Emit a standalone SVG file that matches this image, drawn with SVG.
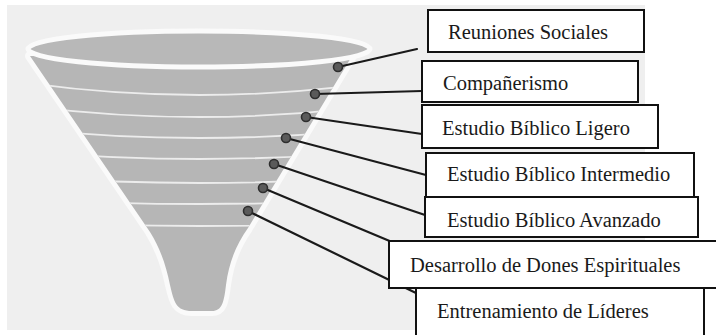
<svg xmlns="http://www.w3.org/2000/svg" width="716" height="335" viewBox="0 0 716 335">
<style>
.lbl{font-family:"Liberation Serif","Times New Roman",serif;font-size:20.5px;fill:#1a1a1a}
.box{fill:#ffffff;stroke:#111111;stroke-width:2}
.con{stroke:#1a1a1a;stroke-width:2.2;fill:none;stroke-linecap:round}
.dot{fill:#5a5a5a;stroke:#2e2e2e;stroke-width:1.6}
.band{stroke:#ececec;stroke-width:1.8;fill:none}
</style>
<defs>
<clipPath id="fc"><path d="M30,56 L150,232 C160,248 166,265 170,285 C174,302 176,311 192,311 L212,311 C222,311 224,302 226,285 C229,262 236,245 248,228 L352,56 Z"/></clipPath>
</defs>
<rect x="0" y="0" width="716" height="335" fill="#ffffff"/>
<rect x="7" y="5" width="638" height="325" fill="#efefef"/>
<g id="funnel">
<path d="M30,56 L150,232 C160,248 166,265 170,285 C174,302 176,311 192,311 L212,311 C222,311 224,302 226,285 C229,262 236,245 248,228 L352,56 Z" fill="#fafafa" stroke="#fafafa" stroke-width="10" stroke-linejoin="round"/>
<path d="M30,56 L150,232 C160,248 166,265 170,285 C174,302 176,311 192,311 L212,311 C222,311 224,302 226,285 C229,262 236,245 248,228 L352,56 Z" fill="#b6b6b6"/>
<ellipse cx="199" cy="49" rx="171" ry="18" fill="#b8b8b8" stroke="#fafafa" stroke-width="5"/>
<g clip-path="url(#fc)">
<path class="band" d="M20,82 Q199,108 380,82"/>
<path class="band" d="M20,105 Q199,129 380,105"/>
<path class="band" d="M20,128 Q199,148 380,128"/>
<path class="band" d="M20,151 Q199,167 380,151"/>
<path class="band" d="M20,176 Q199,190 380,176"/>
<path class="band" d="M20,199 Q199,209 380,199"/>
<path class="band" d="M20,222 Q199,230 380,222"/>
</g>
</g>
<g id="connectors">
<line class="con" x1="338" y1="67" x2="417" y2="49"/>
<line class="con" x1="315" y1="94" x2="422" y2="91"/>
<line class="con" x1="306" y1="117" x2="422" y2="134"/>
<line class="con" x1="286" y1="138" x2="426" y2="175"/>
<line class="con" x1="274" y1="164" x2="425" y2="215"/>
<line class="con" x1="263" y1="188" x2="392" y2="242"/>
<line class="con" x1="248" y1="211" x2="418" y2="294"/>
<circle class="dot" cx="338" cy="67" r="4.5"/>
<circle class="dot" cx="315" cy="94" r="4.5"/>
<circle class="dot" cx="306" cy="117" r="4.5"/>
<circle class="dot" cx="286" cy="138" r="4.5"/>
<circle class="dot" cx="274" cy="164" r="4.5"/>
<circle class="dot" cx="263" cy="188" r="4.5"/>
<circle class="dot" cx="248" cy="211" r="4.5"/>
</g>
<g id="n1"><rect class="box" x="428" y="10" width="216" height="42"/><text class="lbl" x="448" y="39">Reuniones Sociales</text></g>
<g id="n2"><rect class="box" x="422" y="61" width="216" height="41"/><text class="lbl" x="443" y="90">Compañerismo</text></g>
<g id="n3"><rect class="box" x="422" y="105" width="236" height="43"/><text class="lbl" x="442" y="135">Estudio Bíblico Ligero</text></g>
<g id="n4"><rect class="box" x="426" y="153" width="268" height="44"/><text class="lbl" x="447" y="181">Estudio Bíblico Intermedio</text></g>
<g id="n5"><rect class="box" x="425" y="197" width="273" height="40"/><text class="lbl" x="447" y="227">Estudio Bíblico Avanzado</text></g>
<g id="n6"><rect class="box" x="389" y="241" width="340" height="47"/><text class="lbl" x="410" y="272">Desarrollo de Dones Espirituales</text></g>
<g id="n7"><rect class="box" x="416" y="288" width="288" height="60"/><text class="lbl" x="437" y="318">Entrenamiento de Líderes</text></g>
</svg>
